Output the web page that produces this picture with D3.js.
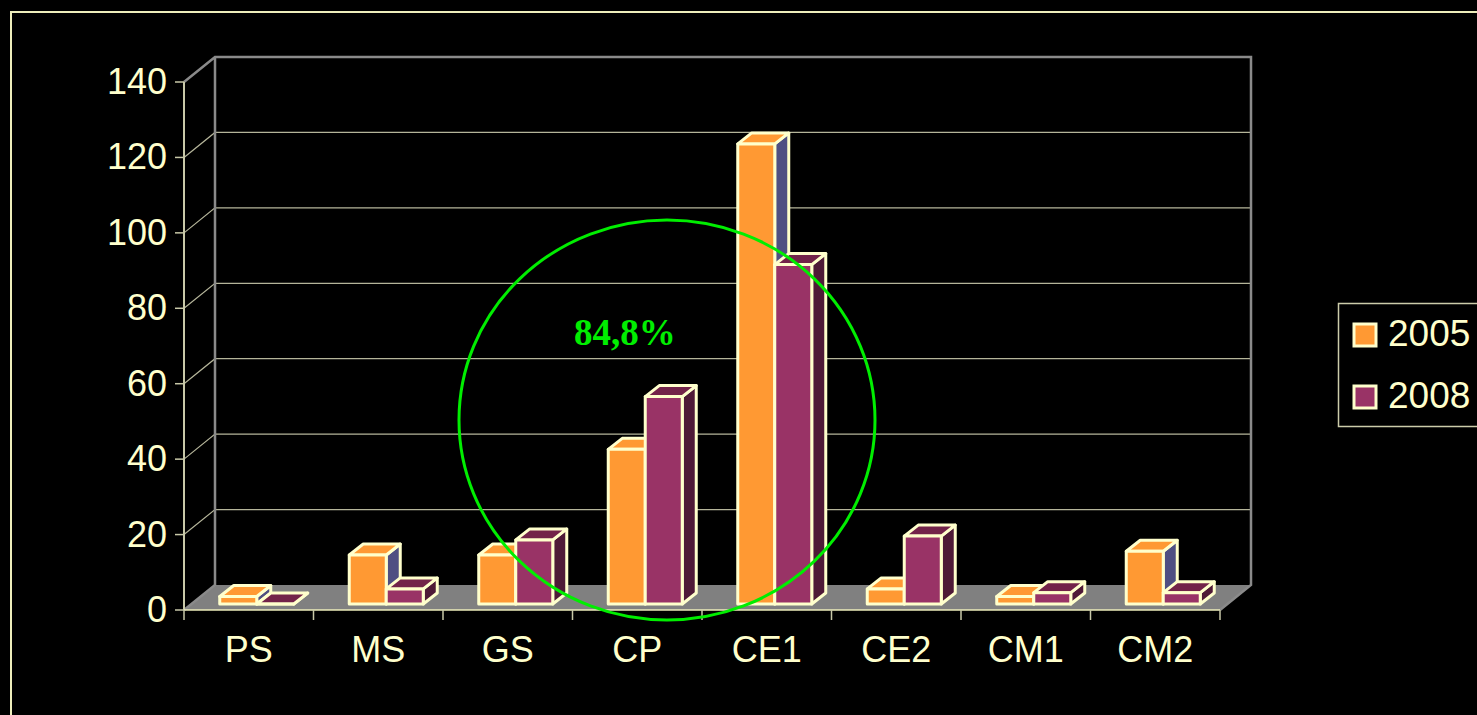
<!DOCTYPE html>
<html>
<head>
  <meta charset="utf-8">
  <script src="https://d3js.org/d3.v7.min.js"></script>
  <style>
    body { margin: 0; background: #000; }
    text { font-family: "Liberation Sans", Arial, sans-serif; fill: #ffffcc; }
  </style>
</head>
<body>
<script>
  var categories = ["PS", "MS", "GS", "CP", "CE1", "CE2", "CM1", "CM2"];
  var series = ["2005", "2008"];
  var v2005 = [2, 13, 13, 41, 122, 4, 2, 14];
  var v2008 = [0, 4, 17, 55, 90, 18, 3, 3];
  var yTicks = [0, 20, 40, 60, 80, 100, 120, 140];

  var width = 1477, height = 715;
  var svg = d3.select("body").append("svg")
      .attr("width", width).attr("height", height);

  // slide frame
  svg.append("path").attr("d", "M11,715V12H1477")
     .attr("fill", "none").attr("stroke", "#eeeebb").attr("stroke-width", 2);

  var x = d3.scaleBand().domain(categories).range([184, 1220]);
  var y = d3.scaleLinear().domain([0, 140]).range([610, 82]);
  var dep = [31, -25];          // full depth of the box
  var bf = [8, -6];             // bar front offset
  var bd = [14, -11];           // bar depth
  var bw = x.bandwidth() / 3.5; // gap width 150%

  var grid = "#b5b59a", wall = "#8a8a8a";

  // floor
  svg.append("polygon")
     .attr("points", [[184, y(0)], [1220, y(0)], [1220 + dep[0], y(0) + dep[1]], [184 + dep[0], y(0) + dep[1]]].join(" "))
     .attr("fill", "#808080");

  // gridlines on back wall + side wall
  svg.selectAll(".grid").data(yTicks.filter(function(d){ return d > 0 && d < 140; }))
    .enter().append("path")
    .attr("d", function(d){ return "M184," + y(d) + "L" + (184 + dep[0]) + "," + (y(d) + dep[1]) + "H" + (1220 + dep[0]); })
    .attr("fill", "none").attr("stroke", grid).attr("stroke-width", 1.2);

  // wall outline
  svg.append("path")
     .attr("d", "M184," + y(140) + "L" + (184 + dep[0]) + "," + (y(140) + dep[1]) +
                "H" + (1220 + dep[0]) + "V" + (y(0) + dep[1]) + "L1220," + y(0) +
                "M" + (184 + dep[0]) + "," + (y(140) + dep[1]) + "V" + (y(0) + dep[1]) + "L184," + y(0))
     .attr("fill", "none").attr("stroke", wall).attr("stroke-width", 2.5);

  // y axis
  svg.append("line").attr("x1", 184).attr("x2", 184).attr("y1", y(140)).attr("y2", y(0))
     .attr("stroke", "#c8c8a8").attr("stroke-width", 2);
  var yt = svg.selectAll(".ytick").data(yTicks).enter().append("g");
  yt.append("line").attr("x1", 175).attr("x2", 184).attr("y1", y).attr("y2", y)
    .attr("stroke", "#c8c8a8").attr("stroke-width", 1.5);
  yt.append("text").attr("x", 167).attr("y", function(d){ return y(d) + 12; })
    .attr("text-anchor", "end").attr("font-size", 36).text(function(d){ return d; });

  // x axis
  svg.append("line").attr("x1", 184).attr("x2", 1220).attr("y1", y(0)).attr("y2", y(0))
     .attr("stroke", "#eeeebb").attr("stroke-width", 1.5);
  svg.selectAll(".xtick").data(categories.concat(["end"])).enter().append("line")
    .attr("x1", function(d, i){ return 184 + i * x.step(); })
    .attr("x2", function(d, i){ return 184 + i * x.step(); })
    .attr("y1", y(0)).attr("y2", y(0) + 10)
    .attr("stroke", "#c8c8a8").attr("stroke-width", 1.5);
  svg.selectAll(".xlab").data(categories).enter().append("text")
    .attr("x", function(d){ return x(d) + x.bandwidth() / 2; })
    .attr("y", 662).attr("text-anchor", "middle").attr("font-size", 36)
    .text(function(d){ return d; });

  // bars
  var colors = [
    { front: "#ff9933", top: "#ff9933", side: "#4f4f82" },
    { front: "#993366", top: "#732349", side: "#4f1a37" }
  ];
  var bars = [];
  categories.forEach(function(c, i){
    [v2005[i], v2008[i]].forEach(function(v, s){
      bars.push({ cat: c, s: s, v: v });
    });
  });

  function pt(p){ return p[0] + "," + p[1]; }
  var g = svg.selectAll(".bar").data(bars).enter().append("g")
    .attr("stroke", "#ffffcc").attr("stroke-width", 3).attr("stroke-linejoin", "round");
  g.each(function(d){
    var x0 = x(d.cat) + bw * 0.75 + d.s * bw + bf[0];
    var x1 = x0 + bw;
    var yb = y(0) + bf[1], ytp = y(d.v) + bf[1];
    var col = colors[d.s];
    var sel = d3.select(this);
    sel.append("polygon").attr("fill", col.side)
       .attr("points", [[x1, ytp], [x1, yb], [x1 + bd[0], yb + bd[1]], [x1 + bd[0], ytp + bd[1]]].map(pt).join(" "));
    sel.append("polygon").attr("fill", col.top)
       .attr("points", [[x0, ytp], [x1, ytp], [x1 + bd[0], ytp + bd[1]], [x0 + bd[0], ytp + bd[1]]].map(pt).join(" "));
    sel.append("polygon").attr("fill", col.front)
       .attr("points", [[x0, yb], [x1, yb], [x1, ytp], [x0, ytp]].map(pt).join(" "));
  });

  // highlight circle
  svg.append("ellipse").attr("cx", 667).attr("cy", 420).attr("rx", 208).attr("ry", 200)
     .attr("fill", "none").attr("stroke", "#00ee00").attr("stroke-width", 3);
  svg.append("text").attr("x", 574).attr("y", 345)
     .style("font-family", "'Liberation Serif', 'Times New Roman', serif")
     .style("font-weight", "bold").style("fill", "#00ee00").attr("font-size", 37)
     .text("84,8%");

  // legend
  svg.append("rect").attr("x", 1338.5).attr("y", 303.5).attr("width", 150).attr("height", 123)
     .attr("fill", "none").attr("stroke", "#ccccaa").attr("stroke-width", 1.5);
  var lg = svg.selectAll(".leg").data(series).enter().append("g")
    .attr("transform", function(d, i){ return "translate(0," + (i * 62) + ")"; });
  lg.append("rect").attr("x", 1354).attr("y", 324).attr("width", 22).attr("height", 22)
    .attr("fill", function(d, i){ return colors[i].front; })
    .attr("stroke", "#ffffcc").attr("stroke-width", 3);
  lg.append("text").attr("x", 1388).attr("y", 346).attr("font-size", 37).text(function(d){ return d; });
</script>
</body>
</html>
